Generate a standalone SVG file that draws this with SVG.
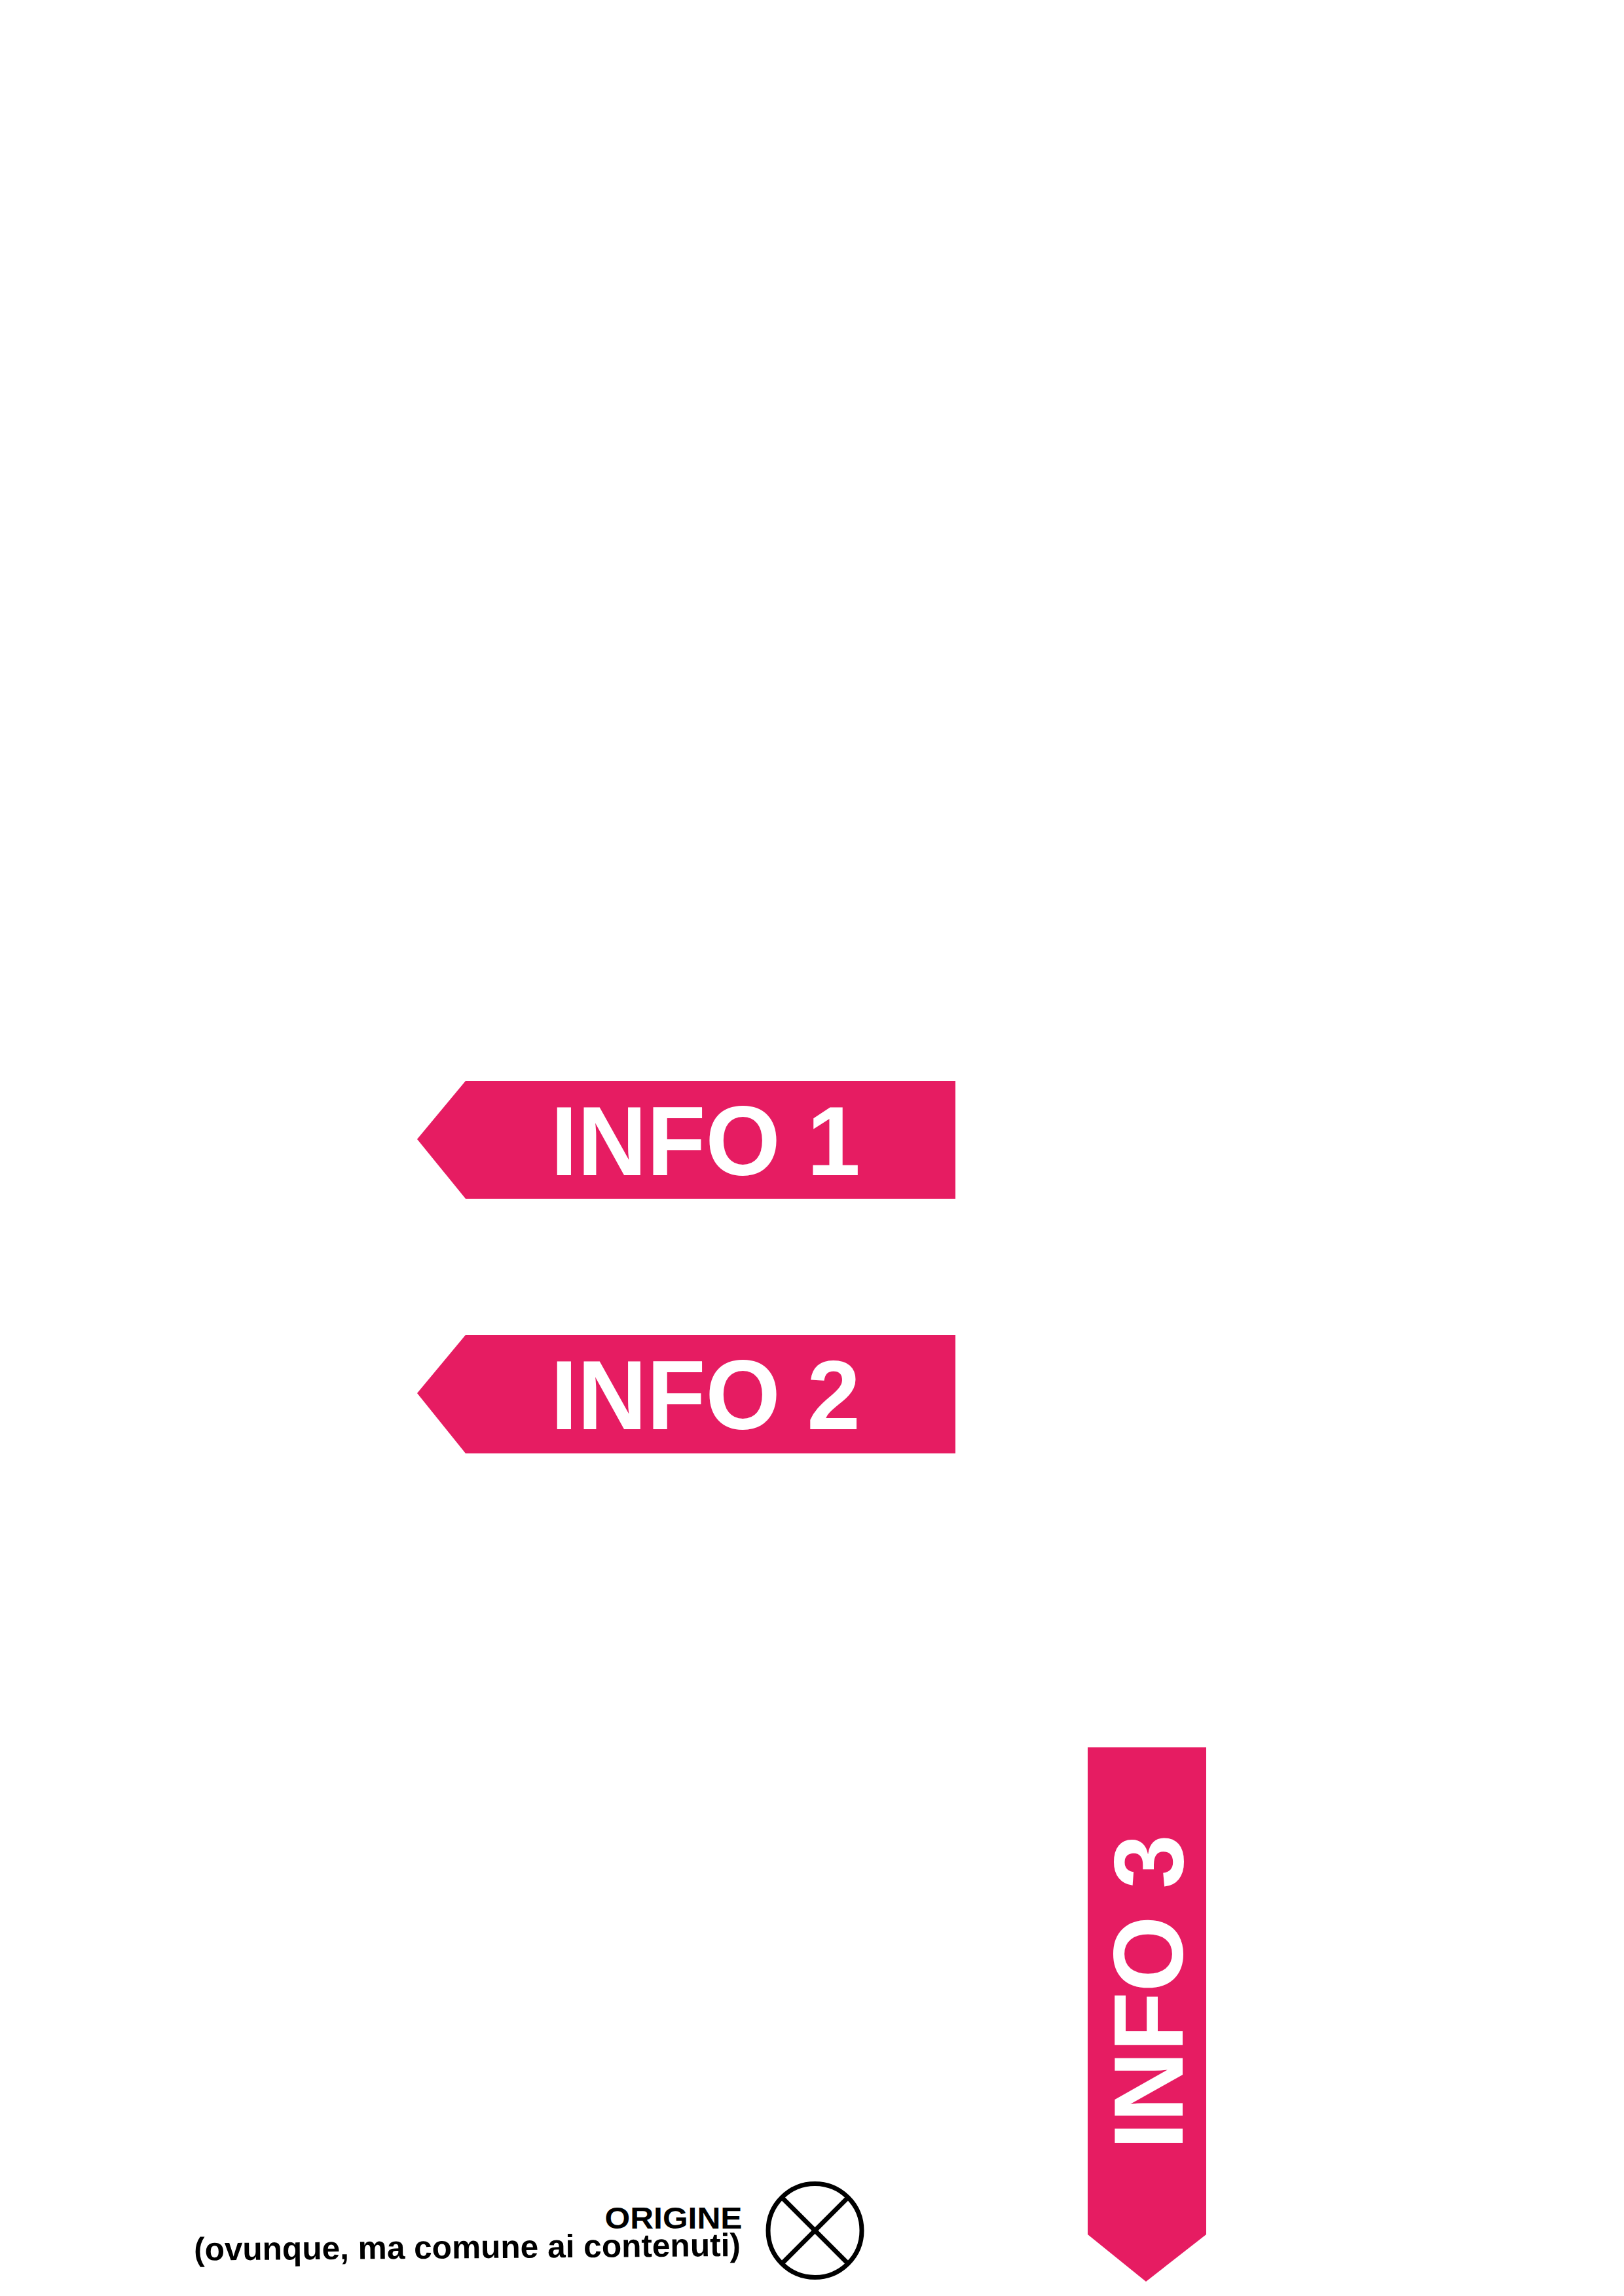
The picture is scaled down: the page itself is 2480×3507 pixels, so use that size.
<svg xmlns="http://www.w3.org/2000/svg" width="2480" height="3507" viewBox="0 0 2480 3507">
<style>
.banner{fill:#E61C62}
.lbl{font-family:"Liberation Sans",Arial,sans-serif;font-weight:bold;font-size:150px;fill:#FFFFFF}
.orig{font-family:"Liberation Sans",Arial,sans-serif;font-weight:bold;fill:#000000}
.sym{fill:none;stroke:#000000;stroke-width:7}
</style>
<rect width="2480" height="3507" fill="#FFFFFF"/>
<g id="info1">
<polygon class="banner" points="637,1740 711,1651 1459,1651 1459,1831 711,1831"/>
<text class="lbl" x="841" y="1795" textLength="473" lengthAdjust="spacingAndGlyphs">INFO 1</text>
</g>
<g id="info2">
<polygon class="banner" points="637,2128 711,2039 1459,2039 1459,2220 711,2220"/>
<text class="lbl" x="841" y="2183" textLength="473" lengthAdjust="spacingAndGlyphs">INFO 2</text>
</g>
<g id="info3">
<polygon class="banner" points="1661,2669 1842,2669 1842,3413 1750,3485 1661,3413"/>
<text class="lbl" transform="translate(1806,3283) rotate(-90)" x="0" y="0" textLength="481" lengthAdjust="spacingAndGlyphs">INFO 3</text>
</g>
<g id="origin">
<text class="orig" font-size="45.5" x="1133.5" y="3403.5" text-anchor="end" textLength="210" lengthAdjust="spacingAndGlyphs">ORIGINE</text>
<text class="orig" font-size="49.6" x="1131" y="3446" text-anchor="end" transform="rotate(-0.45 1131 3446)">(ovunque, ma comune ai contenuti)</text>
<circle class="sym" cx="1244.5" cy="3407" r="71.5"/>
<line class="sym" x1="1194" y1="3356.5" x2="1295" y2="3457.5"/>
<line class="sym" x1="1295" y1="3356.5" x2="1194" y2="3457.5"/>
</g>
<g id="connectors"/>
</svg>
